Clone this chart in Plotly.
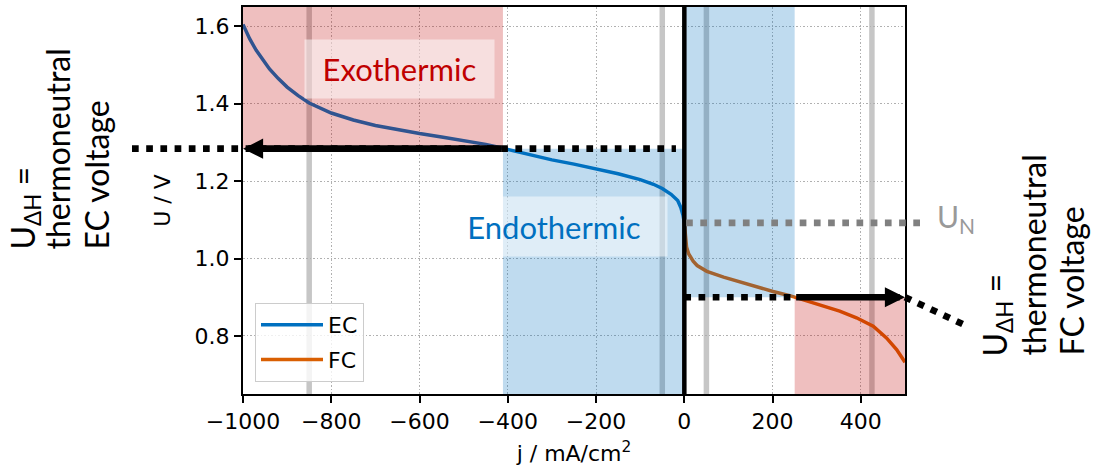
import plotly.graph_objects as go

# ---------------- data ----------------
ec_j = [-1000, -985, -970, -955, -940, -920, -900, -875, -850, -800, -750, -700, -650,
        -600, -550, -500, -450, -411, -350, -300, -250, -200, -150, -100, -70, -50,
        -30, -15, -8, -3, 0]
ec_u = [1.605, 1.568, 1.538, 1.512, 1.490, 1.465, 1.443, 1.421, 1.402, 1.376, 1.358,
        1.344, 1.333, 1.323, 1.314, 1.305, 1.295, 1.285, 1.268, 1.255, 1.244, 1.232,
        1.219, 1.204, 1.192, 1.181, 1.166, 1.150, 1.132, 1.112, 1.092]

fc_j = [0, 2, 5, 10, 14, 20, 29, 51, 89, 126, 164, 201, 239, 250, 276, 314, 352, 390,
        428, 458, 481, 500]
fc_u = [1.092, 1.060, 1.030, 1.012, 1.004, 0.993, 0.982, 0.967, 0.952, 0.939, 0.927,
        0.915, 0.904, 0.900, 0.892, 0.878, 0.864, 0.847, 0.825, 0.795, 0.765, 0.732]

x_ticks = [-1000, -800, -600, -400, -200, 0, 200, 400]
y_ticks = [0.8, 1.0, 1.2, 1.4, 1.6]
x_range = [-1000, 500]
y_range = [0.65, 1.65]

u_tn_ec = 1.284      # thermoneutral EC voltage
u_tn_fc = 0.900      # thermoneutral FC voltage
u_n = 1.092          # Nernst voltage
j_tn_ec = -411       # EC current density at thermoneutral voltage
j_tn_fc = 250        # FC current density at thermoneutral voltage
gray_lines_j = [-850, -50, 50, 425]

ec_label_lines = ["U<sub>ΔH</sub> =", "thermoneutral", "EC voltage"]
fc_label_lines = ["U<sub>ΔH</sub> =", "thermoneutral", "FC voltage"]

# ---------------- layout geometry ----------------
W, H = 1097, 473
ML, MR, MT, MB = 243, 192, 7, 79
PW, PH = W - ML - MR, H - MT - MB


def px_x(px):
    return (px - ML) / PW


def px_y(py):
    return (H - MB - py) / PH


def xp(j):
    return (j - x_range[0]) / (x_range[1] - x_range[0])


EC_COLOR = "#0070c0"
FC_COLOR = "#d95f02"
RED_FILL = "rgba(192,0,0,0.25)"
BLUE_FILL = "rgba(0,112,192,0.25)"
TXT_FONT = "Lato, Carlito, 'Open Sans', sans-serif"
AX_FONT = "DejaVu Sans, sans-serif"
DOT = "6.7px,7.5px"

fig = go.Figure()
fig.add_trace(go.Scatter(x=ec_j, y=ec_u, mode="lines", name="EC", legendgroup="ec",
                         line=dict(color=EC_COLOR, width=3.5)))
fig.add_trace(go.Scatter(x=fc_j, y=fc_u, mode="lines", name="FC", legendgroup="fc",
                         line=dict(color=FC_COLOR, width=3.5)))

shapes = []
# gray vertical marker lines (between grid and traces)
for gj in gray_lines_j:
    shapes.append(dict(type="line", xref="x", yref="paper", x0=gj, x1=gj, y0=0, y1=1,
                       layer="between",
                       line=dict(color="rgba(128,128,128,0.45)", width=5.5)))
# shaded regions drawn above the curves
shapes += [
    dict(type="rect", xref="x", yref="y", x0=x_range[0], x1=j_tn_ec, y0=u_tn_ec, y1=y_range[1],
         fillcolor=RED_FILL, line=dict(width=0), layer="above"),
    dict(type="rect", xref="x", yref="y", x0=j_tn_ec, x1=0, y0=y_range[0], y1=u_tn_ec,
         fillcolor=BLUE_FILL, line=dict(width=0), layer="above"),
    dict(type="rect", xref="x", yref="y", x0=0, x1=j_tn_fc, y0=u_tn_fc, y1=y_range[1],
         fillcolor=BLUE_FILL, line=dict(width=0), layer="above"),
    dict(type="rect", xref="x", yref="y", x0=j_tn_fc, x1=x_range[1], y0=y_range[0], y1=u_tn_fc,
         fillcolor=RED_FILL, line=dict(width=0), layer="above"),
]
# black vertical line at j = 0
shapes.append(dict(type="line", xref="x", yref="paper", x0=0, x1=0, y0=0, y1=1,
                   layer="above", line=dict(color="black", width=4.5)))
# dotted thermoneutral EC line (extends out to the left label)
shapes.append(dict(type="line", xref="paper", yref="y", x0=px_x(132), x1=xp(-19),
                   y0=u_tn_ec, y1=u_tn_ec, layer="above",
                   line=dict(color="black", width=6.7, dash=DOT)))
# dotted thermoneutral FC line
shapes.append(dict(type="line", xref="x", yref="y", x0=0, x1=j_tn_fc,
                   y0=u_tn_fc, y1=u_tn_fc, layer="above",
                   line=dict(color="black", width=6.7, dash=DOT)))
# dotted leader to FC label
shapes.append(dict(type="line", xref="paper", yref="y", x0=1.0, x1=px_x(966),
                   y0=u_tn_fc, y1=0.8267, layer="above",
                   line=dict(color="black", width=6.7, dash=DOT)))
# Nernst voltage line
shapes.append(dict(type="line", xref="paper", yref="y", x0=xp(4), x1=px_x(926),
                   y0=u_n, y1=u_n, layer="above",
                   line=dict(color="#808080", width=6.7, dash=DOT)))

annotations = [
    # arrows
    dict(x=x_range[0], y=u_tn_ec, ax=j_tn_ec, ay=u_tn_ec, xref="x", yref="y",
         axref="x", ayref="y", text="", showarrow=True, arrowhead=2, arrowsize=0.6,
         arrowwidth=6.7, arrowcolor="black"),
    dict(x=x_range[1], y=u_tn_fc, ax=j_tn_fc, ay=u_tn_fc, xref="x", yref="y",
         axref="x", ayref="y", text="", showarrow=True, arrowhead=2, arrowsize=0.6,
         arrowwidth=6.7, arrowcolor="black"),
    # region labels
    dict(x=-645, y=1.489, xref="x", yref="y", text="Exothermic", showarrow=False,
         font=dict(family=TXT_FONT, size=31, color="#c00000"),
         bgcolor="rgba(255,255,255,0.5)", width=189, height=58, borderpad=0),
    dict(x=-295, y=1.0841, xref="x", yref="y", text="Endothermic", showarrow=False,
         font=dict(family=TXT_FONT, size=31, color=EC_COLOR),
         bgcolor="rgba(255,255,255,0.5)", width=226, height=59, borderpad=0),
    # U_N
    dict(x=px_x(936), y=u_n, xref="paper", yref="y", text="U<sub>N</sub>",
         showarrow=False, xanchor="left", yanchor="middle", borderpad=0, yshift=5,
         font=dict(family=TXT_FONT, size=30, color="#999999")),
]

# thermoneutral labels: one rotated annotation per line, left-aligned (bottom)
for txt, cx in zip(ec_label_lines, [24, 57, 96]):
    annotations.append(dict(x=px_x(cx), y=px_y(251), xref="paper", yref="paper",
                            text=txt, showarrow=False, textangle=-90,
                            xanchor="center", yanchor="bottom", borderpad=0,
                            font=dict(family=TXT_FONT, size=32, color="black")))
for txt, cx in zip(fc_label_lines, [996, 1033, 1071]):
    annotations.append(dict(x=px_x(cx), y=px_y(357), xref="paper", yref="paper",
                            text=txt, showarrow=False, textangle=-90,
                            xanchor="center", yanchor="bottom", borderpad=0,
                            font=dict(family=TXT_FONT, size=32, color="black")))

axis_common = dict(
    showline=True, linecolor="black", linewidth=2, mirror=True,
    ticks="outside", ticklen=7, tickwidth=1.5, tickcolor="black",
    showgrid=True, gridcolor="#b0b0b0", gridwidth=1, griddash="1.5px,2px",
    zeroline=False, tickfont=dict(family=AX_FONT, size=22, color="black"),
    automargin=False,
)

fig.update_layout(
    width=W, height=H,
    margin=dict(l=ML, r=MR, t=MT, b=MB, pad=0),
    plot_bgcolor="white", paper_bgcolor="white",
    shapes=shapes, annotations=annotations,
    xaxis=dict(range=x_range, tickvals=x_ticks,
               title=dict(text="j / mA/cm<sup>2</sup>", standoff=12,
                          font=dict(family=AX_FONT, size=22, color="black")),
               **axis_common),
    yaxis=dict(range=y_range, tickvals=y_ticks, tickformat=".1f",
               title=dict(text="U / V", standoff=18,
                          font=dict(family=AX_FONT, size=22, color="black")),
               **axis_common),
    legend=dict(x=px_x(255), y=px_y(382), xanchor="left", yanchor="bottom",
                bgcolor="rgba(255,255,255,0.8)", bordercolor="#cccccc", borderwidth=1,
                itemwidth=62, tracegroupgap=3,
                font=dict(family=AX_FONT, size=22, color="black")),
    showlegend=True,
)

fig.write_html("out.html", config={"displayModeBar": False})
